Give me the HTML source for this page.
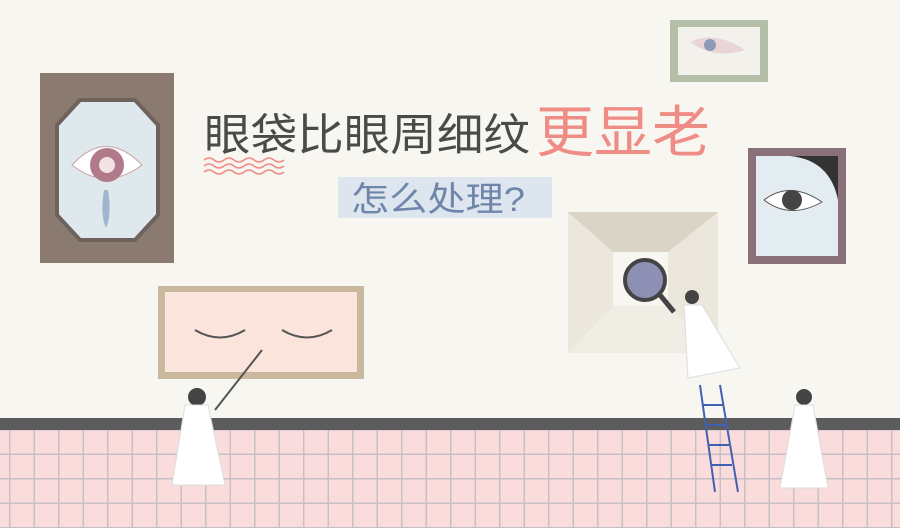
<!DOCTYPE html>
<html><head><meta charset="utf-8"><style>
html,body{margin:0;padding:0;width:900px;height:528px;overflow:hidden;background:#f8f6f0}
svg{display:block}
text{font-family:"Liberation Sans","Noto Sans CJK SC",sans-serif}
</style></head><body>
<svg width="900" height="528" viewBox="0 0 900 528">
<defs>
<pattern id="tiles" x="9" y="429" width="24.5" height="24.5" patternUnits="userSpaceOnUse">
<rect width="24.5" height="24.5" fill="#f9dcdb"/>
<path d="M0 0H24.5M0 0V24.5" stroke="#c6bfc6" stroke-width="3" fill="none"/>
</pattern>
</defs>
<rect width="900" height="528" fill="#f8f6f0"/>
<rect x="0" y="429" width="900" height="99" fill="url(#tiles)"/>
<rect x="0" y="418" width="900" height="12" fill="#5c5c5c"/>

<g>
<rect x="40" y="73" width="134" height="190" fill="#8a7a70"/>
<polygon points="80,100 135,100 158,125 158,215 135,240 80,240 57,215 57,125" fill="#dfe8ec" stroke="#6e635c" stroke-width="4"/>
<path d="M72 165 Q106 128 142 165 Q106 192 72 165Z" fill="#fff" stroke="#c9a0a5"/>
<circle cx="107" cy="165" r="17" fill="#b07a8a"/>
<circle cx="107" cy="165" r="8" fill="#f3e2e6"/>
<path d="M104 190 Q100 215 106 228 Q112 215 108 190Z" fill="#9fb6cf"/>
</g>

<g>
<rect x="670" y="20" width="98" height="62" fill="#b5bfa8"/>
<rect x="678" y="27" width="82" height="48" fill="#f3f1ec"/>
<path d="M690 42 Q715 30 745 50 Q715 60 690 42Z" fill="#e9d4d8"/>
<circle cx="710" cy="45" r="6" fill="#8c9ab8"/>
</g>

<g>
<rect x="748" y="148" width="98" height="116" fill="#8a7078"/>
<rect x="756" y="156" width="82" height="100" fill="#e3ecf0"/>
<path d="M790 156 Q830 160 838 200 L838 156Z" fill="#333"/>
<path d="M764 200 Q790 180 822 202 Q790 220 764 200Z" fill="#fff" stroke="#555"/>
<circle cx="792" cy="200" r="10" fill="#444"/>
</g>

<g>
<rect x="158" y="286" width="206" height="93" fill="#c8b89e"/>
<rect x="165" y="292" width="192" height="80" fill="#fbe4dc"/>
<path d="M195 330 Q220 345 245 330" stroke="#555" stroke-width="2" fill="none"/>
<path d="M282 330 Q307 345 332 330" stroke="#555" stroke-width="2" fill="none"/>
</g>

<g>
<rect x="568" y="212" width="150" height="141" fill="#ebe7dc"/>
<polygon points="568,212 718,212 668,252 613,252" fill="#d9d4c6"/>
<polygon points="568,353 718,353 668,306 613,306" fill="#f0ede4"/>
<rect x="613" y="252" width="55" height="54" fill="#f8f6f0"/>
<circle cx="645" cy="280" r="20" fill="#8d8fb5" stroke="#444" stroke-width="4"/>
<line x1="660" y1="295" x2="674" y2="312" stroke="#444" stroke-width="5"/>
</g>

<g stroke="#4060b0" stroke-width="2">
<line x1="700" y1="385" x2="715" y2="492"/><line x1="720" y1="385" x2="738" y2="492"/>
<line x1="703" y1="405" x2="723" y2="405"/><line x1="706" y1="425" x2="726" y2="425"/><line x1="708" y1="445" x2="729" y2="445"/><line x1="711" y1="465" x2="732" y2="465"/>
</g>
<g>
<circle cx="692" cy="297" r="7" fill="#444"/>
<path d="M684 305 L702 305 L740 368 L688 378Z" fill="#fff" stroke="#ddd"/>
</g>
<g>
<circle cx="197" cy="397" r="9" fill="#444"/>
<path d="M185 405 L208 405 L225 485 L172 485Z" fill="#fff" stroke="#ddd"/>
<line x1="215" y1="410" x2="262" y2="350" stroke="#555" stroke-width="2"/>
</g>
<g>
<circle cx="804" cy="397" r="8" fill="#444"/>
<path d="M795 405 L813 405 L828 488 L780 488Z" fill="#fff" stroke="#ddd"/>
</g>

<g>
<text x="204" y="150" font-size="44" textLength="326" lengthAdjust="spacingAndGlyphs" fill="#4a4a4a">眼袋比眼周细纹</text>
<text x="536" y="152" font-size="56" textLength="174" lengthAdjust="spacingAndGlyphs" fill="#ef8c86">更显老</text>
<path d="M204 160 q5-4 10 0 t10 0 t10 0 t10 0 t10 0 t10 0 t10 0 t10 0 M204 166 q5-4 10 0 t10 0 t10 0 t10 0 t10 0 t10 0 t10 0 t10 0 M204 172 q5-4 10 0 t10 0 t10 0 t10 0 t10 0 t10 0 t10 0 t10 0" stroke="#ef8c86" stroke-width="1.5" fill="none"/>
<rect x="338" y="177" width="214" height="41" fill="#dde6ee"/>
<text x="351" y="211" font-size="34" textLength="174" lengthAdjust="spacingAndGlyphs" fill="#6f86aa">怎么处理?</text>
</g>
</svg>
</body></html>
